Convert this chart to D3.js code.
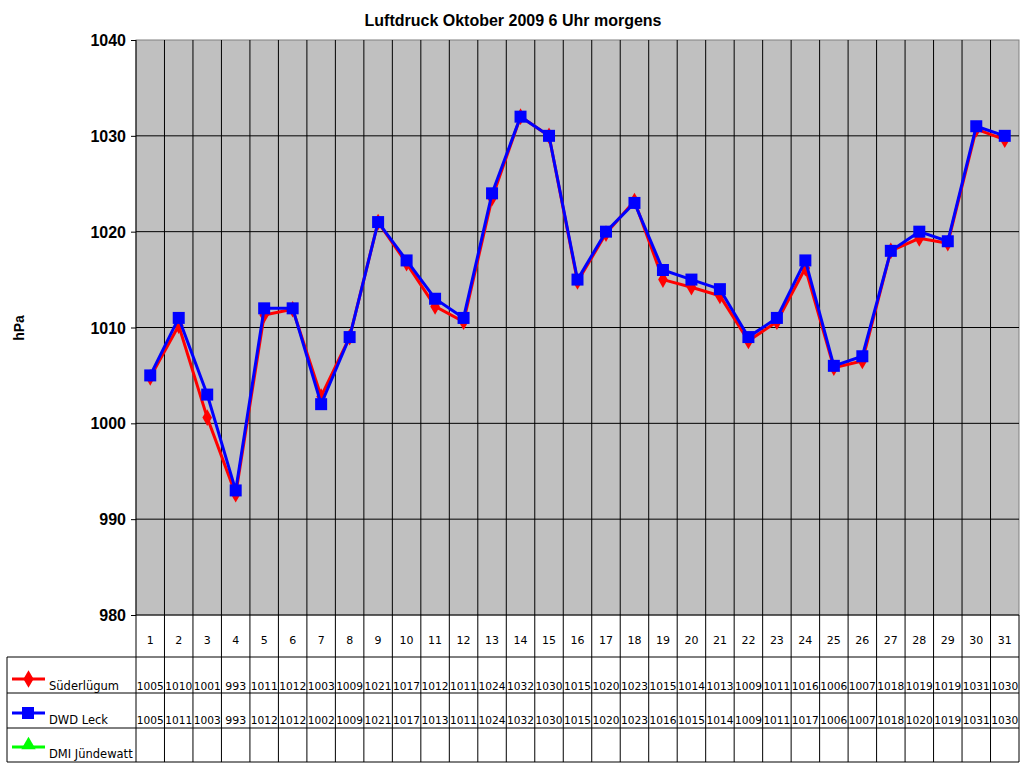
<!DOCTYPE html>
<html><head><meta charset="utf-8">
<script src="https://cdn.jsdelivr.net/npm/d3@7/dist/d3.min.js"></script>
<style>body{margin:0;background:#fff}svg{font-family:"DejaVu Sans",sans-serif}</style>
</head><body><svg id="c" width="1024" height="768"></svg>
<script>
const days = d3.range(1,32).map(String);
const suederluegum = [1004.8,1010.2,1000.6,992.6,1011.3,1011.9,1002.8,1009,1021,1016.7,1012.2,1010.6,1023.5,1032,1030,1014.8,1019.8,1023.2,1015,1014.2,1013.3,1008.6,1010.6,1016.2,1005.8,1006.5,1018,1019.3,1018.8,1030.7,1029.6];
const dwdLeck = [1005,1011,1003,993,1012,1012,1002,1009,1021,1017,1013,1011,1024,1032,1030,1015,1020,1023,1016,1015,1014,1009,1011,1017,1006,1007,1018,1020,1019,1031,1030];
const dmi = [];
const yTicks = [980,990,1000,1010,1020,1030,1040];
const seriesNames = ["Süderlügum","DWD Leck","DMI Jündewatt"];
const colors = ["#ff0000","#0000ff","#00ff00"];

const svg = d3.select("#c");
const L=136,R=1019,T=40,B=615;
const x = d3.scaleBand().domain(days).range([L,R]);
const y = d3.scaleLinear().domain([980,1040]).range([B,T]);
svg.append("rect").attr("x",L).attr("y",T).attr("width",R-L).attr("height",B-T).attr("fill","#c0c0c0").attr("stroke","#808080");
svg.selectAll(".hg").data(yTicks.slice(1,-1)).join("line").attr("x1",L).attr("x2",R).attr("y1",d=>y(d)).attr("y2",d=>y(d)).attr("stroke","#000");
// vertical lines through plot and table
const xs = days.slice(1).map(d=>x(d));
svg.selectAll(".vg").data(xs).join("line").attr("x1",d=>d).attr("x2",d=>d).attr("y1",T).attr("y2",762).attr("stroke","#000");
svg.append("line").attr("x1",L).attr("x2",L).attr("y1",T).attr("y2",762).attr("stroke","#000");
svg.append("line").attr("x1",R).attr("x2",R).attr("y1",B).attr("y2",762).attr("stroke","#000");
[B].forEach(v=>svg.append("line").attr("x1",L).attr("x2",R).attr("y1",v).attr("y2",v).attr("stroke","#000"));
[657,693,728,762].forEach(v=>svg.append("line").attr("x1",7).attr("x2",R).attr("y1",v).attr("y2",v).attr("stroke","#000"));
svg.append("line").attr("x1",7).attr("x2",7).attr("y1",657).attr("y2",762).attr("stroke","#000");
// y axis
const ya = svg.append("g").attr("transform",`translate(${L},0)`).call(d3.axisLeft(y).tickValues(yTicks).tickSize(5).tickFormat(d3.format("d")));
ya.select(".domain").remove();
ya.selectAll("text").attr("font-size",16).attr("font-weight","bold").attr("fill","#000").attr("dy","0.35em").attr("x",-10).attr("font-family","Liberation Sans, Arial");
ya.selectAll("line").attr("stroke","#000");
svg.append("text").attr("transform","translate(24,328) rotate(-90)").attr("text-anchor","middle").attr("font-size",14).attr("font-weight","bold").attr("font-family","Liberation Sans, Arial").text("hPa");
svg.append("text").attr("x",513).attr("y",26).attr("text-anchor","middle").attr("font-size",16).attr("font-weight","bold").attr("font-family","Liberation Sans, Arial").text("Luftdruck Oktober 2009 6 Uhr morgens");
// day labels
svg.selectAll(".dl").data(days).join("text").attr("x",d=>x(d)+x.bandwidth()/2).attr("y",644).attr("text-anchor","middle").attr("font-size",11).text(d=>d);
// table values
const rows=[suederluegum,dwdLeck,dmi], rowY=[690,724,758];
rows.forEach((r,i)=>{
  svg.selectAll(".tv"+i).data(r).join("text").attr("x",(d,j)=>x(days[j])+x.bandwidth()/2).attr("y",rowY[i]).attr("text-anchor","middle").attr("font-size",11).attr("textLength",d=>Math.round(d)>=1000?27:null).attr("lengthAdjust","spacingAndGlyphs").text(d=>Math.round(d));
  svg.append("line").attr("x1",12).attr("x2",45).attr("y1",rowY[i]-11).attr("y2",rowY[i]-11).attr("stroke",colors[i]).attr("stroke-width",3);
  svg.append("text").attr("x",49).attr("y",rowY[i]).attr("font-size",11.5).text(seriesNames[i]);
});
svg.append("path").attr("d",d3.symbol(d3.symbolDiamond,90)()).attr("transform",`translate(28.5,${rowY[0]-11})`).attr("fill",colors[0]);
svg.append("rect").attr("x",22).attr("y",rowY[1]-17).attr("width",12).attr("height",12).attr("fill",colors[1]);
svg.append("path").attr("d",d3.symbol(d3.symbolTriangle,90)()).attr("transform",`translate(28.5,${rowY[2]-13})`).attr("fill",colors[2]);
// lines
const line = d3.line().x((d,i)=>x(days[i])+x.bandwidth()/2).y(d=>y(d));
svg.append("path").attr("d",line(suederluegum)).attr("fill","none").attr("stroke",colors[0]).attr("stroke-width",3);
svg.selectAll(".dm").data(suederluegum).join("path").attr("d",d3.symbol(d3.symbolDiamond,80)()).attr("transform",(d,i)=>`translate(${x(days[i])+x.bandwidth()/2},${y(d)})`).attr("fill",colors[0]);
svg.append("path").attr("d",line(dwdLeck)).attr("fill","none").attr("stroke",colors[1]).attr("stroke-width",3);
svg.selectAll(".sq").data(dwdLeck).join("rect").attr("x",(d,i)=>x(days[i])+x.bandwidth()/2-6).attr("y",d=>y(d)-6).attr("width",12).attr("height",12).attr("fill",colors[1]);
</script></body></html>
